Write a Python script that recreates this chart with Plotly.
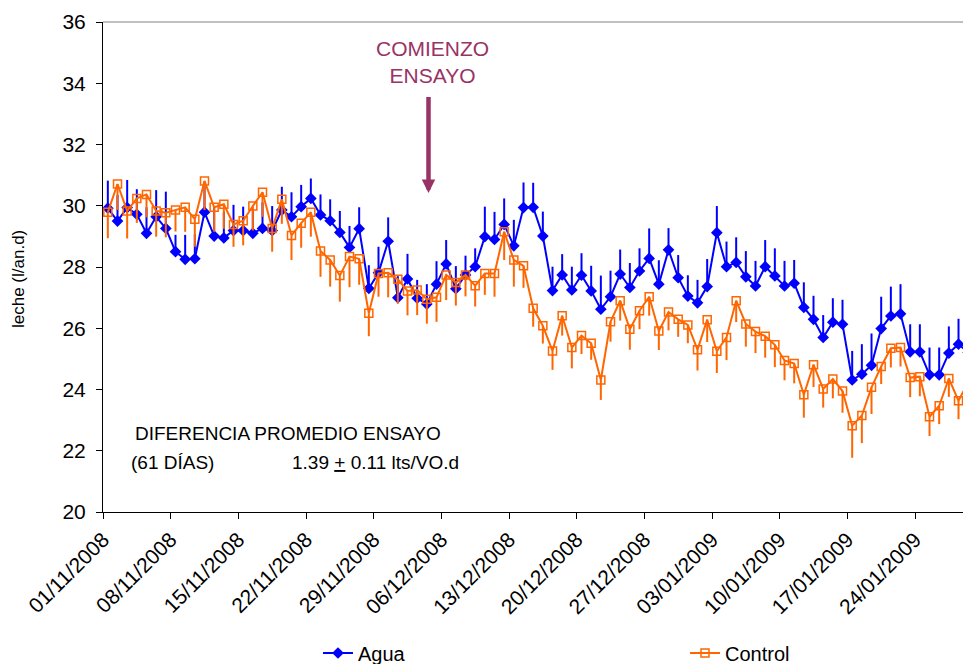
import pandas as pd
import plotly.graph_objects as go

start_date = "2008-11-01"
n_days = 90

agua = [29.92, 29.50, 29.94, 29.72, 29.10, 29.64, 29.26, 28.50, 28.25, 28.27,
        29.79, 29.01, 28.95, 29.19, 29.19, 29.10, 29.26, 29.19, 29.86, 29.64,
        29.97, 30.24, 29.70, 29.51, 29.13, 28.64, 29.25, 27.30, 27.81, 28.84,
        27.00, 27.61, 26.98, 26.79, 27.44, 28.10, 27.29, 27.74, 28.01, 28.99,
        28.90, 29.39, 28.69, 29.94, 29.95, 29.01, 27.23, 27.74, 27.25, 27.73,
        27.22, 26.62, 27.03, 27.77, 27.33, 27.87, 28.28, 27.44, 28.56, 27.65,
        27.05, 26.83, 27.36, 29.12, 28.01, 28.15, 27.68, 27.38, 28.01, 27.71,
        27.38, 27.47, 26.68, 26.29, 25.70, 26.20, 26.13, 24.31, 24.50, 24.79,
        25.99, 26.40, 26.47, 25.23, 25.23, 24.48, 24.48, 25.19, 25.48, 25.21]

agua_err = [0.90, 0.85, 0.90, 0.82, 0.85, 0.87, 1.20, 0.55, 0.80, 0.80,
            0.95, 0.96, 0.85, 0.84, 0.78, 0.80, 0.85, 0.80, 0.76, 0.80,
            0.71, 0.65, 0.67, 0.70, 0.70, 0.70, 0.70, 0.76, 0.85, 0.78,
            0.70, 0.82, 0.60, 0.65, 0.75, 0.78, 0.74, 0.63, 0.60, 0.98,
            0.90, 0.85, 0.85, 0.82, 0.80, 0.80, 0.78, 0.68, 0.76, 0.72,
            0.82, 1.10, 0.85, 0.80, 0.80, 0.74, 0.98, 0.78, 0.71, 0.74,
            0.68, 0.75, 0.90, 0.87, 0.82, 0.82, 0.84, 0.82, 0.87, 0.90,
            0.82, 0.76, 0.82, 0.77, 0.73, 0.78, 0.80, 0.95, 0.98, 1.04,
            1.04, 0.96, 0.97, 0.90, 0.90, 0.89, 0.89, 0.87, 0.83, 0.88]

control = [29.79, 30.71, 29.83, 30.24, 30.37, 29.83, 29.77, 29.86, 29.95, 29.56,
           30.81, 29.95, 30.05, 29.39, 29.51, 29.99, 30.44, 29.26, 30.21, 29.03,
           29.43, 29.79, 28.52, 28.23, 27.72, 28.34, 28.27, 26.49, 27.79, 27.81,
           27.60, 27.22, 27.25, 26.95, 27.01, 27.74, 27.49, 27.74, 27.39, 27.79,
           27.79, 29.15, 28.23, 28.04, 26.65, 26.08, 25.26, 26.41, 25.37, 25.76,
           25.51, 24.31, 26.21, 26.90, 25.97, 26.57, 27.03, 25.91, 26.53, 26.29,
           26.11, 25.30, 26.28, 25.25, 25.70, 26.90, 26.14, 25.89, 25.74, 25.46,
           24.95, 24.85, 23.83, 24.81, 24.02, 24.34, 23.95, 22.82, 23.15, 24.07,
           24.75, 25.35, 25.37, 24.39, 24.42, 23.11, 23.47, 24.36, 23.63, 24.24]

control_err = [0.85, 0.85, 0.90, 0.80, 0.75, 0.84, 0.80, 0.70, 0.80, 0.90,
               0.95, 0.80, 0.80, 0.73, 0.80, 0.80, 0.80, 0.76, 0.80, 0.80,
               0.80, 0.80, 0.84, 0.87, 0.85, 1.00, 0.85, 0.75, 0.76, 0.80,
               0.80, 0.80, 0.82, 0.80, 0.80, 0.82, 0.75, 0.70, 0.68, 0.70,
               0.76, 0.92, 0.87, 0.72, 0.60, 0.58, 0.62, 0.65, 0.68, 0.60,
               0.54, 0.65, 0.65, 0.65, 0.67, 0.60, 0.62, 0.62, 0.60, 0.57,
               0.60, 0.68, 0.73, 0.71, 0.74, 0.70, 0.74, 0.70, 0.70, 0.73,
               0.65, 0.65, 0.75, 0.73, 0.61, 0.63, 0.71, 1.05, 0.90, 0.87,
               0.57, 0.63, 0.62, 0.64, 0.64, 0.63, 0.60, 0.60, 0.60, 0.60]

tick_dates = pd.date_range(start_date, "2009-01-24", freq="7D")
zeros = [0] * n_days

# each daily value is centred in its day (Excel date axis)
dates = pd.date_range(start_date, periods=n_days, freq="D") + pd.Timedelta(hours=12)

FONT = "Liberation Sans, Arial, sans-serif"
BLUE = "#0000FF"
ORANGE = "#FF6600"

fig = go.Figure()
fig.add_trace(go.Scatter(
    x=dates, y=agua, name="Agua", mode="lines+markers", legend="legend",
    line=dict(color=BLUE, width=2),
    marker=dict(symbol="diamond", size=9, color=BLUE),
    error_y=dict(type="data", symmetric=False, array=agua_err, arrayminus=zeros,
                 color=BLUE, thickness=2, width=0),
))
fig.add_trace(go.Scatter(
    x=dates, y=control, name="Control", mode="lines+markers", legend="legend2",
    line=dict(color=ORANGE, width=2),
    marker=dict(symbol="square-open", size=8, color=ORANGE, line=dict(width=1.5, color=ORANGE)),
    error_y=dict(type="data", symmetric=False, array=zeros, arrayminus=control_err,
                 color=ORANGE, thickness=2, width=0),
))

leg_common = dict(orientation="h", xanchor="left", y=-0.2878, yanchor="middle",
                  font=dict(size=20), bgcolor="rgba(0,0,0,0)", borderwidth=0)

fig.update_layout(
    width=963, height=656,
    margin=dict(l=95, r=0, t=14, b=152, autoexpand=False),
    paper_bgcolor="white", plot_bgcolor="white",
    font=dict(family=FONT, size=21, color="black"),
    showlegend=True,
    legend=dict(x=0.2477, **leg_common),
    legend2=dict(x=0.6705, **leg_common),
    xaxis=dict(
        type="date", automargin=False,
        range=["2008-11-01", "2009-01-29 19:00"],
        tickvals=tick_dates, tickformat="%d/%m/%Y", tickangle=-45,
        ticks="outside", ticklen=6, tickcolor="black", tickwidth=1,
        showline=True, linecolor="black", linewidth=1,
        showgrid=False, zeroline=False, tickfont=dict(size=21),
    ),
    yaxis=dict(
        range=[20, 36], dtick=2, tick0=20, automargin=False,
        ticks="outside", ticklen=6, tickcolor="black", tickwidth=1,
        ticklabelstandoff=6,
        showline=True, linecolor="black", linewidth=1,
        showgrid=False, zeroline=False, tickfont=dict(size=21),
    ),
    shapes=[dict(type="line", xref="paper", yref="paper", x0=0, x1=1, y0=1, y1=1,
                 line=dict(color="#808080", width=1))],
    annotations=[
        dict(xref="paper", yref="paper", x=-0.0979, y=0.4755, text="leche (l/an.d)",
             textangle=-90, showarrow=False, xanchor="center", yanchor="middle",
             font=dict(size=17)),
        dict(xref="paper", yref="paper", x=0.380, y=0.919, text="COMIENZO<br>ENSAYO",
             showarrow=False, font=dict(size=21, color="#993366"), xanchor="center", yanchor="middle"),
        dict(xref="paper", yref="paper", x=0.375, y=0.651, text=" ", showarrow=True,
             ax=0, ay=-109, arrowhead=2, arrowsize=0.6, arrowwidth=4.5, arrowcolor="#993366",
             standoff=0, startstandoff=0),
        dict(xref="paper", yref="paper", x=0.035, y=0.161, text="DIFERENCIA PROMEDIO ENSAYO",
             showarrow=False, xanchor="left", yanchor="middle", font=dict(size=19)),
        dict(xref="paper", yref="paper", x=0.030, y=0.102, text="(61 DÍAS)",
             showarrow=False, xanchor="left", yanchor="middle", font=dict(size=19)),
        dict(xref="paper", yref="paper", x=0.216, y=0.102, text="1.39 <u>+</u> 0.11 lts/VO.d",
             showarrow=False, xanchor="left", yanchor="middle", font=dict(size=19)),
    ],
)

fig.write_html("out.html")
